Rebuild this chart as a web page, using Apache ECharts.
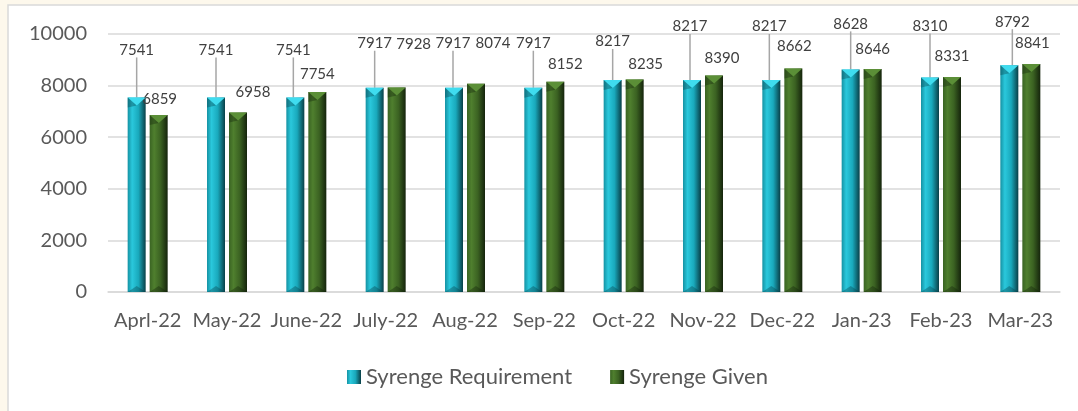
<!DOCTYPE html>
<html>
<head>
<meta charset="utf-8">
<script src="https://cdn.jsdelivr.net/npm/echarts@6/dist/echarts.min.js"></script>
<style>
html,body{margin:0;padding:0;background:#fdf8ec;}
#chart{width:1078px;height:411px;}
</style>
</head>
<body>
<div id="chart"></div>
<script>
const categories = ['Aprl-22','May-22','June-22','July-22','Aug-22','Sep-22','Oct-22','Nov-22','Dec-22','Jan-23','Feb-23','Mar-23'];
const requirement = [7541,7541,7541,7917,7917,7917,8217,8217,8217,8628,8310,8792];
const given = [6859,6958,7754,7928,8074,8152,8235,8390,8662,8646,8331,8841];
const seriesNames = ['Syrenge Requirement','Syrenge Given'];

// label displacement (style only)
const reqShift = [[0,-35],[0,-35],[-2,-35],[0,-32],[-1,-32],[0,-32],[0,-26],[-2,-41],[-2,-41],[0,-33],[0,-39],[3,-31]];
const givenShift = [[1,-3],[15,-8],[0,-5],[17,-31],[17,-28],[10,-5],[11,-3],[8,-5],[1,-10],[0,-7],[0,-8],[1,-8]];

const BAR_W = 18, GAP = 4;
const cyanGrad = new echarts.graphic.LinearGradient(0,0,1,0,[
  {offset:0,color:'#1592a3'},{offset:0.25,color:'#2ac8dc'},{offset:0.6,color:'#19a9bc'},{offset:1,color:'#093f47'}]);
const greenGrad = new echarts.graphic.LinearGradient(0,0,1,0,[
  {offset:0,color:'#3a6423'},{offset:0.25,color:'#4f7f2e'},{offset:0.6,color:'#3b6222'},{offset:1,color:'#15240c'}]);

function capSeries(values, side, topColor, sideColor){
  return {
    type:'custom', silent:true, z:5,
    data: values.map((v,i)=>[i,v]),
    renderItem:function(params, api){
      const p = api.coord([api.value(0), api.value(1)]);
      const base = api.coord([api.value(0), 0]);
      const cx = p[0] + side*(BAR_W/2 + GAP/2);
      const l = cx - BAR_W/2, r = cx + BAR_W/2, t = p[1];
      const d = 8;
      return {type:'group', children:[
        {type:'polygon', shape:{points:[[l,t],[r,t],[cx,t+d]]}, style:{fill:topColor}},
        {type:'polygon', shape:{points:[[l,t],[cx,t+d],[l,t+d+2]]}, style:{fill:sideColor, opacity:0.35}},
        {type:'polygon', shape:{points:[[l,base[1]],[r,base[1]],[cx,base[1]-6]]}, style:{fill:sideColor, opacity:0.35}}
      ]};
    }
  };
}

const chart = echarts.init(document.getElementById('chart'));
chart.setOption({
  backgroundColor:'#fdf8ec',
  animation:false,
  graphic:[{type:'rect', z:-10, shape:{x:8,y:5,width:1075,height:410}, style:{fill:'#ffffff', stroke:'#d9d9d9', lineWidth:1.5}}],
  grid:{left:108,right:18,top:34,bottom:119},
  legend:{
    data:seriesNames, left:342, top:361, itemWidth:14, itemHeight:14, itemGap:38, icon:'rect',
    textStyle:{fontFamily:'Lato', fontSize:22, color:'#595959'}
  },
  xAxis:{
    type:'category', data:categories,
    axisLine:{lineStyle:{color:'#d9d9d9', width:1.5}}, axisTick:{show:false},
    axisLabel:{fontFamily:'Lato', fontSize:20, color:'#595959', margin:19, interval:0}
  },
  yAxis:{
    type:'value', min:0, max:10000, interval:2000,
    axisLine:{show:false}, axisTick:{show:false},
    splitLine:{lineStyle:{color:'#d9d9d9', width:1.5}},
    axisLabel:{fontFamily:'Lato', fontSize:20, color:'#595959', margin:21, formatter:function(v){return String(v);}}
  },
  series:[
    {name:seriesNames[0], type:'bar', data:requirement, barWidth:BAR_W, barGap:(GAP/BAR_W*100)+'%',
     itemStyle:{color:cyanGrad},
     label:{show:true, position:'top', fontFamily:'Lato', fontSize:15, color:'#404040'},
     labelLine:{show:true, lineStyle:{color:'#a6a6a6', width:1.5}},
     labelLayout:function(p){ const s=reqShift[p.dataIndex]; return {dx:s[0], dy:s[1]}; }
    },
    {name:seriesNames[1], type:'bar', data:given, barWidth:BAR_W,
     itemStyle:{color:greenGrad},
     label:{show:true, position:'top', fontFamily:'Lato', fontSize:15, color:'#404040'},
     labelLayout:function(p){ const s=givenShift[p.dataIndex]; return {dx:s[0], dy:s[1]}; }
    },
    capSeries(requirement, -1, '#3fdcef', '#063a42'),
    capSeries(given, 1, '#5b8f37', '#0f1c08')
  ]
});
</script>
</body>
</html>
